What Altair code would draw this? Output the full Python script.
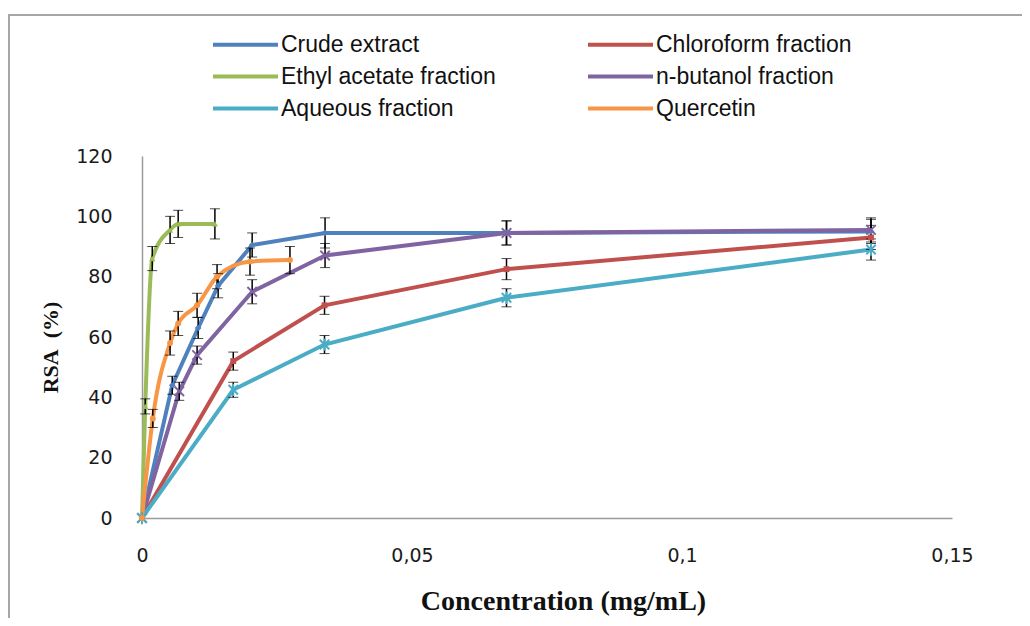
import altair as alt
import pandas as pd

series_names = ["Crude extract", "Chloroform fraction", "Ethyl acetate fraction",
                "n-butanol fraction", "Aqueous fraction", "Quercetin"]
series_colors = ["#4F81BD", "#C0504D", "#9BBB59", "#8064A2", "#4BACC6", "#F79646"]

crude_conc = [0, 0.0056, 0.0104, 0.0141, 0.0204, 0.0339, 0.0675, 0.135]
crude_rsa = [0, 44, 63, 77, 90.5, 94.5, 94.5, 95]
crude_err = [0, 3, 3.5, 4, 4, 5, 4, 4]

chloro_conc = [0, 0.0169, 0.0338, 0.0675, 0.135]
chloro_rsa = [0, 52, 70.5, 82.5, 93]
chloro_err = [0, 3, 3, 3.5, 4]

ethyl_conc = [0, 0.0006, 0.0019, 0.0052, 0.0067, 0.0135]
ethyl_rsa = [0, 37, 86, 95.5, 97.5, 97.5]
ethyl_err = [0, 2.5, 4, 4.5, 4.5, 5]

butanol_conc = [0, 0.0069, 0.0102, 0.0204, 0.0339, 0.0675, 0.135]
butanol_rsa = [0, 42, 54, 75, 87, 94.5, 95.5]
butanol_err = [0, 3, 3, 4, 4, 4, 4]

aqueous_conc = [0, 0.0169, 0.0338, 0.0675, 0.135]
aqueous_rsa = [0, 42.5, 57.5, 73, 89]
aqueous_err = [0, 2.5, 3, 3, 3.5]

quercetin_conc = [0, 0.002, 0.0052, 0.0067, 0.0102, 0.0139, 0.02, 0.0274]
quercetin_rsa = [0, 33, 58, 64.5, 70.5, 80, 85, 85.5]
quercetin_err = [0, 3, 4, 4, 4, 4, 4.5, 4.5]

x_ticks = [0, 0.05, 0.1, 0.15]
y_ticks = [0, 20, 40, 60, 80, 100, 120]

smooth_series = ["Ethyl acetate fraction", "Quercetin"]
# marker style per series: (shape, filled, size)
marker_styles = {
    "Crude extract": ("diamond", True, 45),
    "Chloroform fraction": ("square", True, 35),
    "Ethyl acetate fraction": ("triangle-up", True, 40),
    "n-butanol fraction": ("M-1,-1L1,1M-1,1L1,-1", False, 90),
    "Aqueous fraction": ("M-1,-1L1,1M-1,1L1,-1M0,-1.3L0,1.3", False, 90),
    "Quercetin": ("circle", True, 35),
}

rows = []
for name, xs, ys, es in [
    ("Crude extract", crude_conc, crude_rsa, crude_err),
    ("Chloroform fraction", chloro_conc, chloro_rsa, chloro_err),
    ("Ethyl acetate fraction", ethyl_conc, ethyl_rsa, ethyl_err),
    ("n-butanol fraction", butanol_conc, butanol_rsa, butanol_err),
    ("Aqueous fraction", aqueous_conc, aqueous_rsa, aqueous_err),
    ("Quercetin", quercetin_conc, quercetin_rsa, quercetin_err),
]:
    for x, y, e in zip(xs, ys, es):
        rows.append({"series": name, "conc": x, "rsa": y, "lo": y - e, "hi": y + e, "err": e})
df = pd.DataFrame(rows)

serif = "'Liberation Serif', 'Times New Roman', serif"
legend_font = "'Liberation Sans', Arial, sans-serif"
sans = "'DejaVu Sans', Verdana, sans-serif"

x_scale = alt.Scale(domain=[0, 0.15], nice=False)
y_scale = alt.Scale(domain=[0, 120], nice=False)
y_title = "RSA\u00a0\u00a0(%)"

x_enc = alt.X("conc:Q", scale=x_scale,
              axis=alt.Axis(values=x_ticks, title="Concentration (mg/mL)", labelFlush=False,
                            titleFontSize=28,
                            labelExpr="replace(toString(datum.value), '.', ',')"))
y_enc = alt.Y("rsa:Q", scale=y_scale,
              axis=alt.Axis(values=y_ticks, title=y_title, labelFlush=False))
color_scale = alt.Scale(domain=series_names, range=series_colors)

base = alt.Chart(df)

lines_linear = base.transform_filter(
    alt.FieldOneOfPredicate(field="series", oneOf=[s for s in series_names if s not in smooth_series])
).mark_line(strokeWidth=4, interpolate="linear").encode(
    x=x_enc, y=y_enc,
    color=alt.Color("series:N", scale=color_scale, sort=series_names,
                    legend=alt.Legend(title=None, orient="none", legendX=92, legendY=-123,
                                      columns=2, direction="horizontal",
                                      columnPadding=84, rowPadding=8,
                                      symbolType="M-5,0L5,0", symbolSize=169,
                                      symbolStrokeWidth=4, labelFont=legend_font,
                                      labelFontSize=23, labelColor="#111",
                                      labelOffset=24, labelLimit=400)),
)

lines_smooth = base.transform_filter(
    alt.FieldOneOfPredicate(field="series", oneOf=smooth_series)
).mark_line(strokeWidth=4, interpolate="monotone").encode(
    x=x_enc, y=y_enc,
    color=alt.Color("series:N", scale=color_scale, sort=series_names),
)

errbars = base.transform_filter("datum.err > 0").mark_errorbar(
    ticks={"size": 10, "color": "black", "strokeWidth": 1.8},
    rule={"color": "black", "strokeWidth": 1.5},
).encode(
    x=alt.X("conc:Q", scale=x_scale, title="Concentration (mg/mL)"),
    y=alt.Y("lo:Q", scale=y_scale, title=y_title),
    y2="hi:Q",
)

point_layers = []
for name in series_names:
    shp, filled, sz = marker_styles[name]
    kw = dict(shape=shp, filled=filled, size=sz, opacity=1)
    if not filled:
        kw["strokeWidth"] = 2
    point_layers.append(
        base.transform_filter(alt.datum.series == name).mark_point(**kw).encode(
            x=x_enc, y=y_enc,
            color=alt.Color("series:N", scale=color_scale, sort=series_names),
        )
    )

frame_src = alt.Chart(pd.DataFrame({"k": [0]}))
frame_left = frame_src.mark_rule(color="#a6a6a6", strokeWidth=2).encode(
    x=alt.value(-133), y=alt.value(-141), y2=alt.value(480))
frame_top = frame_src.mark_rule(color="#a6a6a6", strokeWidth=2).encode(
    x=alt.value(-134), x2=alt.value(900), y=alt.value(-141))

chart = alt.layer(
    lines_linear, lines_smooth, errbars, *point_layers, frame_left, frame_top
).properties(
    width=810, height=362,
    autosize=alt.AutoSizeParams(type="none"),
    padding={"left": 134, "top": 148, "right": 70, "bottom": 100},
).configure_view(stroke=None).configure_axis(
    grid=False, ticks=False, domainColor="#9a9a9a", domainWidth=1.5,
    labelFont=sans, labelFontSize=19, labelColor="#1a1a1a",
    titleFont=serif, titleFontSize=22, titleFontWeight="bold", titleColor="#111",
).configure_axisX(
    labelPadding=28, titleX=421, titleY=83, titleBaseline="middle", titleAlign="center",
).configure_axisY(
    labelPadding=30, titleX=-92, titleY=191, titleBaseline="middle", titleAlign="center",
)

chart.save("out.html", embed_options={"renderer": "svg", "actions": False})
